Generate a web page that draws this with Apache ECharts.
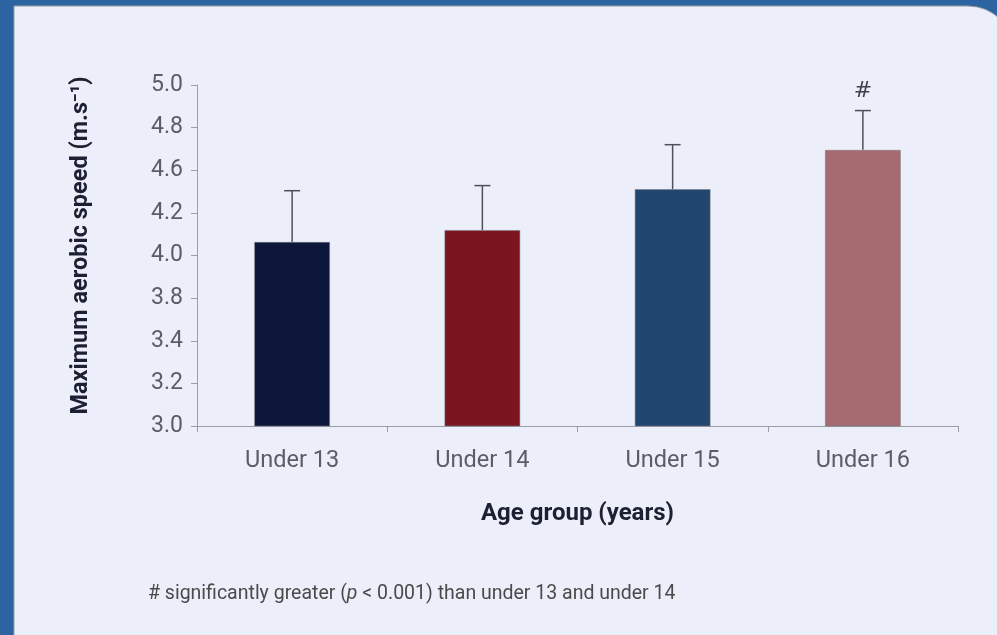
<!DOCTYPE html>
<html>
<head>
<meta charset="utf-8">
<script src="https://cdn.jsdelivr.net/npm/echarts@6/dist/echarts.min.js"></script>
<style>
html,body{margin:0;padding:0;background:#2b64a0;}
#chart{width:997px;height:635px;}
</style>
</head>
<body>
<div id="chart"></div>
<script>
// ---- data ----
var categories = ['Under 13', 'Under 14', 'Under 15', 'Under 16'];
var means = [4.08, 4.15, 4.39, 4.62];
var sds = [0.30, 0.26, 0.26, 0.23];
var significance = ['', '', '', '#'];
var barColors = ['#0d173b', '#7b1620', '#21466f', '#a66a71'];
var yTickLabels = ['3.0', '3.2', '3.4', '3.8', '4.0', '4.2', '4.6', '4.8', '5.0'];
var yMin = 3.0, yMax = 5.0, yStep = 0.25;

var font = 'Roboto';
var chart = echarts.init(document.getElementById('chart'));

var barData = means.map(function (m, i) {
  return { value: m, itemStyle: { color: barColors[i] } };
});
var errData = means.map(function (m, i) { return [i, m, m + sds[i], significance[i]]; });

chart.setOption({
  animation: false,
  backgroundColor: '#2b64a0',
  graphic: [
    { type: 'rect', z: -10, silent: true,
      shape: { x: 14, y: 6, width: 1000, height: 640, r: [0, 46, 0, 0] },
      style: { fill: '#eceef9', stroke: '#9a9ca4', lineWidth: 1 } },
    { type: 'text', left: 148, top: 584, z: 10,
      style: {
        text: '# significantly greater ({i|p} < 0.001) than under 13 and under 14',
        fontFamily: font, fontSize: 19.5, fill: '#4a4a4a',
        rich: { i: { fontStyle: 'italic', fontFamily: font, fontSize: 19.5, fill: '#4a4a4a' } }
      } }
  ],
  grid: { left: 197, right: 39, top: 85, bottom: 209, containLabel: false },
  xAxis: {
    type: 'category', data: categories,
    name: 'Age group (years)', nameLocation: 'middle', nameGap: 76,
    nameTextStyle: { fontFamily: font, fontSize: 24, fontWeight: 'bold', color: '#1d2033' },
    axisLine: { lineStyle: { color: '#9a9ca6', width: 1 } },
    axisTick: { show: true, inside: false, length: 6, lineStyle: { color: '#9a9ca6' } },
    axisLabel: { fontFamily: font, fontSize: 23.5, color: '#5a5c66', margin: 23 },
    splitLine: { show: false }
  },
  yAxis: {
    type: 'value', min: yMin, max: yMax, interval: yStep,
    name: 'Maximum aerobic speed (m.s⁻¹)', nameLocation: 'middle', nameGap: 104,
    nameTextStyle: { fontFamily: font, fontSize: 23.5, fontWeight: 'bold', color: '#1d2033',
                     padding: [0, 0, 0, 20] },
    axisLine: { show: true, lineStyle: { color: '#9a9ca6', width: 1 } },
    axisTick: { show: true, length: 6, lineStyle: { color: '#9a9ca6' } },
    axisLabel: {
      fontFamily: font, fontSize: 23, color: '#5a5c66', margin: 14,
      formatter: function (v) { return yTickLabels[Math.round((v - yMin) / yStep)] || ''; }
    },
    splitLine: { show: false }
  },
  series: [
    {
      type: 'bar', data: barData, barWidth: 76,
      itemStyle: { borderColor: 'rgba(120,120,130,0.5)', borderWidth: 1 }
    },
    {
      type: 'custom', data: errData, z: 5,
      renderItem: function (params, api) {
        var i = api.value(0);
        var base = api.coord([i, api.value(1)]);
        var top = api.coord([i, api.value(2)]);
        var half = 8;
        var children = [
          { type: 'line', shape: { x1: base[0], y1: base[1], x2: top[0], y2: top[1] },
            style: { stroke: '#4d4f5a', lineWidth: 1.5 } },
          { type: 'line', shape: { x1: top[0] - half, y1: top[1], x2: top[0] + half, y2: top[1] },
            style: { stroke: '#4d4f5a', lineWidth: 1.5 } }
        ];
        var sig = errData[params.dataIndex][3];
        if (sig) {
          children.push({ type: 'text', x: top[0], y: top[1] - 8,
            style: { text: sig, fontFamily: 'DejaVu Sans', fontSize: 22, fill: '#3e4150',
                     align: 'center', verticalAlign: 'bottom' } });
        }
        return { type: 'group', children: children };
      }
    }
  ]
});
</script>
</body>
</html>
